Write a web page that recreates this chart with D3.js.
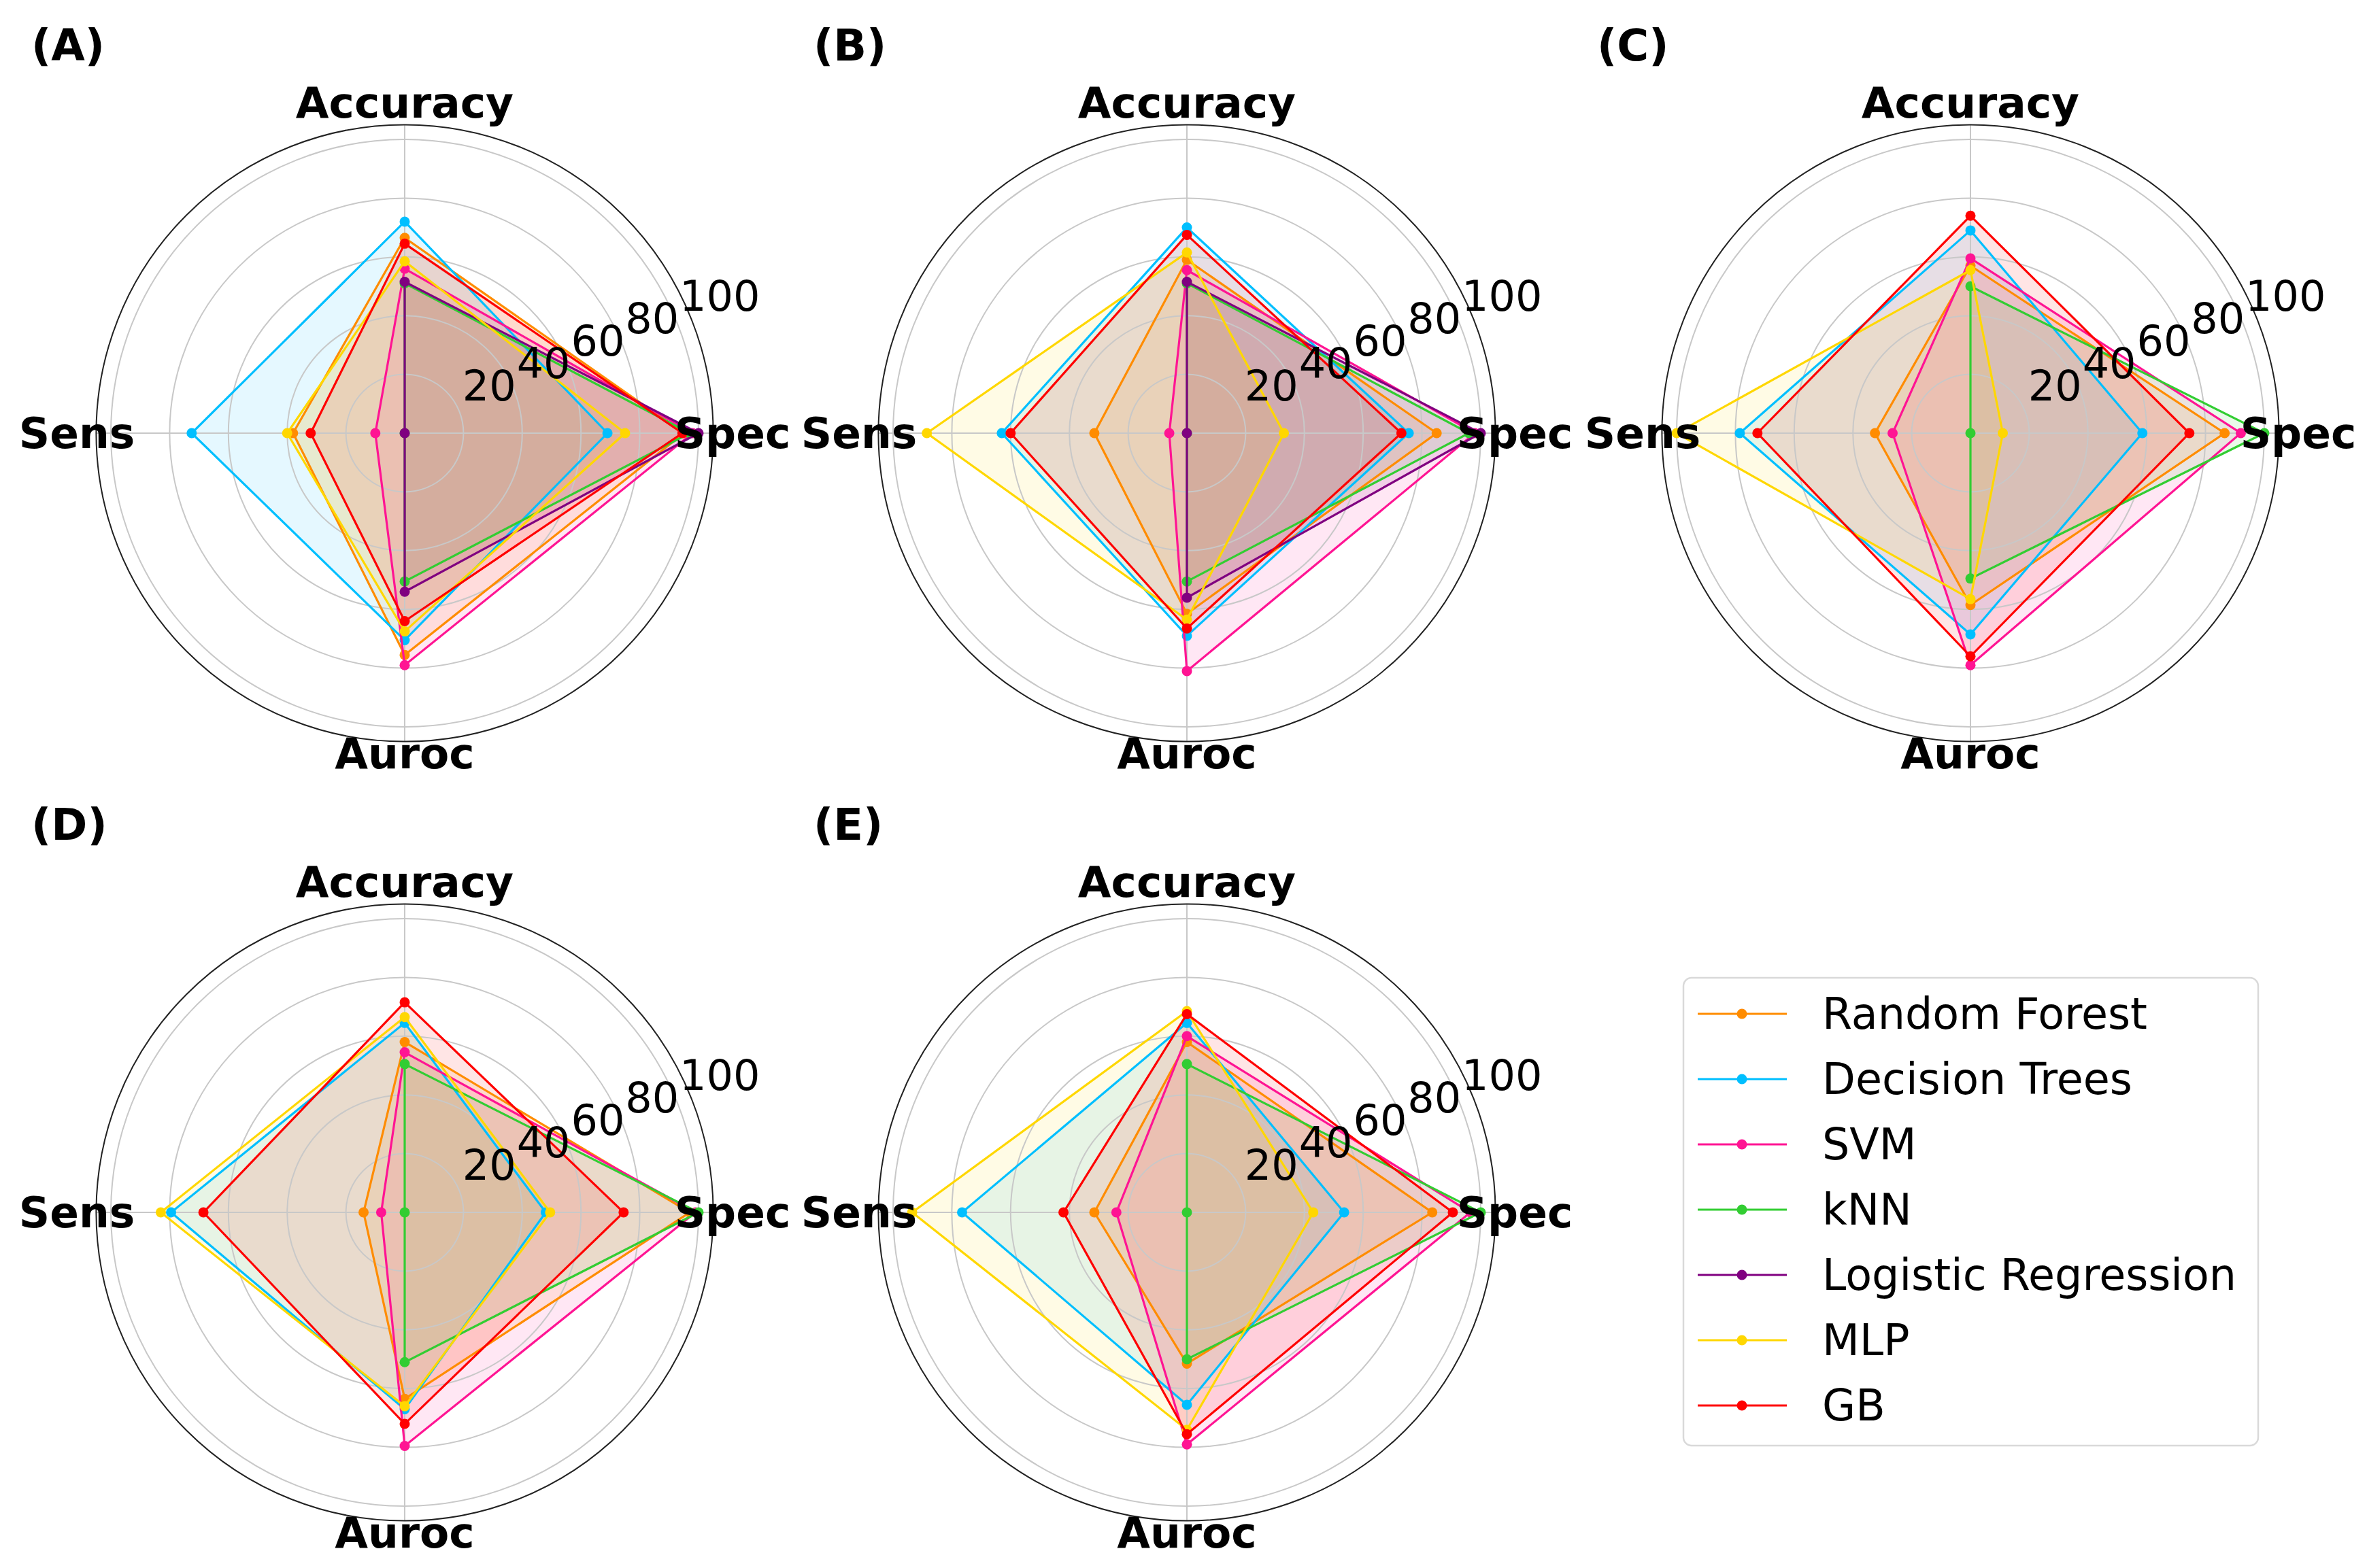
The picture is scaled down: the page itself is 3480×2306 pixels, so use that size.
<!DOCTYPE html>
<html><head><meta charset="utf-8">
<script src="https://cdn.jsdelivr.net/npm/d3@7/dist/d3.min.js"></script>
<style>body{margin:0;background:#fff}svg{display:block}</style>
</head><body>
<script>
// ---------- data ----------
const panelLabels = ["(A)", "(B)", "(C)", "(D)", "(E)"];
const metrics = ["Accuracy", "Spec", "Auroc", "Sens"];
const models = ["Random Forest", "Decision Trees", "SVM", "kNN", "Logistic Regression", "MLP", "GB"];
const modelColors = ["#ff8c00", "#00bfff", "#ff1493", "#32cd32", "#800080", "#ffd700", "#ff0000"];
const radialTicks = [20, 40, 60, 80, 100];
const tickLabels = ["20", "40", "60", "80", "100"];

// values per model in order [Accuracy, Spec, Auroc, Sens]; null = model not shown
const valuesA = [
  [66.5, 95, 75.5, 38],
  [72, 69, 70.5, 72.5],
  [56, 98, 79, 10],
  [51, 97, 50.5, 0],
  [51.5, 100, 54, 0],
  [58.5, 75, 67.5, 40],
  [64.5, 94.5, 64, 32]
];
const valuesB = [
  [59, 85, 61.5, 31.5],
  [70, 75.5, 69, 63],
  [55.5, 98, 81, 6],
  [51, 96, 50.5, 0],
  [51.5, 100, 56, 0],
  [61.5, 33, 63.5, 88.5],
  [67.5, 73, 66.5, 60]
];
const valuesC = [
  [57, 86.5, 58.5, 32.5],
  [69, 58.5, 68.5, 78.5],
  [59.5, 92, 79, 26.5],
  [50, 100, 49.5, 0],
  null,
  [55.5, 11, 56.5, 100],
  [74, 74.5, 76, 72.5]
];
const valuesD = [
  [58, 97, 63.5, 14],
  [64.5, 48, 67, 79.5],
  [54.5, 99, 79.5, 8],
  [50.5, 100, 51, 0],
  null,
  [66.5, 49.5, 66, 83],
  [71.5, 74.5, 72, 68.5]
];
const valuesE = [
  [58, 83.5, 51.5, 31.5],
  [64.5, 53.5, 65.5, 76.5],
  [60, 96.5, 79, 24],
  [50.5, 100, 50, 0],
  null,
  [68.5, 43, 74, 93.5],
  [67.5, 90.5, 75.5, 42]
];
const panelValues = [valuesA, valuesB, valuesC, valuesD, valuesE];

// ---------- layout ----------
const W = 3480, H = 2306;
const FONT = "DejaVu Sans, Liberation Sans, sans-serif";
const centers = [[595, 637], [1745, 637], [2897, 637], [595, 1783], [1745, 1783]];
const rMax = 453.6;
const labelNudge = { "Accuracy": -4, "Spec": 0, "Auroc": -11, "Sens": 0 };

const svg = d3.select("body").append("svg").attr("width", W).attr("height", H)
  .attr("font-family", FONT);
svg.append("rect").attr("width", W).attr("height", H).attr("fill", "#fff");

const r = d3.scaleLinear().domain([0, 105]).range([0, rMax]);
const ang = d3.scalePoint().domain(metrics).range([0, 1.5 * Math.PI]);
const toXY = (a, rad) => [rad * Math.sin(a), -rad * Math.cos(a)];

const radial = d3.lineRadial()
  .angle((d, i) => ang(metrics[i]))
  .radius(d => r(d))
  .curve(d3.curveLinearClosed);

panelValues.forEach((vals, p) => {
  const [cx, cy] = centers[p];
  const g = svg.append("g").attr("transform", `translate(${cx},${cy})`);

  // fills
  vals.forEach((v, m) => {
    if (!v) return;
    g.append("path").attr("d", radial(v))
      .attr("fill", modelColors[m]).attr("fill-opacity", 0.1).attr("stroke", "none");
  });

  // grid circles
  g.selectAll("circle.grid").data(radialTicks).join("circle")
    .attr("r", d => r(d)).attr("fill", "none")
    .attr("stroke", "#c8c8c8").attr("stroke-width", 2);
  // radial grid lines
  metrics.forEach(mt => {
    const [x, y] = toXY(ang(mt), rMax);
    g.append("line").attr("x1", 0).attr("y1", 0).attr("x2", x).attr("y2", y)
      .attr("stroke", "#c8c8c8").attr("stroke-width", 2);
  });

  // lines + markers
  vals.forEach((v, m) => {
    if (!v) return;
    g.append("path").attr("d", radial(v))
      .attr("fill", "none").attr("stroke", modelColors[m]).attr("stroke-width", 3.2)
      .attr("stroke-linejoin", "miter");
    v.forEach((d, i) => {
      const [x, y] = toXY(ang(metrics[i]), r(d));
      g.append("circle").attr("cx", x).attr("cy", y).attr("r", 7.5)
        .attr("fill", modelColors[m]);
    });
  });

  // spine
  g.append("circle").attr("r", rMax).attr("fill", "none")
    .attr("stroke", "#222").attr("stroke-width", 2);

  // radial tick labels at 22.5 deg
  const la = 22.5 * Math.PI / 180;
  radialTicks.forEach((t, i) => {
    const x = r(t) * Math.cos(la), y = -r(t) * Math.sin(la);
    g.append("text").attr("x", x + 5).attr("y", y - 15)
      .attr("font-size", 62).attr("fill", "#000").text(tickLabels[i]);
  });

  // metric labels
  metrics.forEach(mt => {
    const [x, y] = toXY(ang(mt), 482);
    g.append("text").attr("x", x).attr("y", y + 22 + labelNudge[mt])
      .attr("text-anchor", "middle").attr("font-size", 63).attr("font-weight", "bold")
      .attr("fill", "#000").text(mt);
  });

  // panel label
  svg.append("text").attr("x", cx - 549).attr("y", cy - 548)
    .attr("font-size", 64).attr("font-weight", "bold").attr("fill", "#000")
    .text(panelLabels[p]);
});

// ---------- legend ----------
const lg = svg.append("g");
lg.append("rect").attr("x", 2475).attr("y", 1438).attr("width", 845).attr("height", 688)
  .attr("rx", 12).attr("fill", "#fff").attr("stroke", "#d9d9d9").attr("stroke-width", 2.5);
models.forEach((mName, i) => {
  const y = 1491 + i * 96;
  lg.append("line").attr("x1", 2496).attr("x2", 2627).attr("y1", y).attr("y2", y)
    .attr("stroke", modelColors[i]).attr("stroke-width", 3.2);
  lg.append("circle").attr("cx", 2561).attr("cy", y).attr("r", 7.5).attr("fill", modelColors[i]);
  lg.append("text").attr("x", 2679).attr("y", y + 22).attr("font-size", 63.5)
    .attr("fill", "#000").text(mName);
});
</script>
</body></html>
